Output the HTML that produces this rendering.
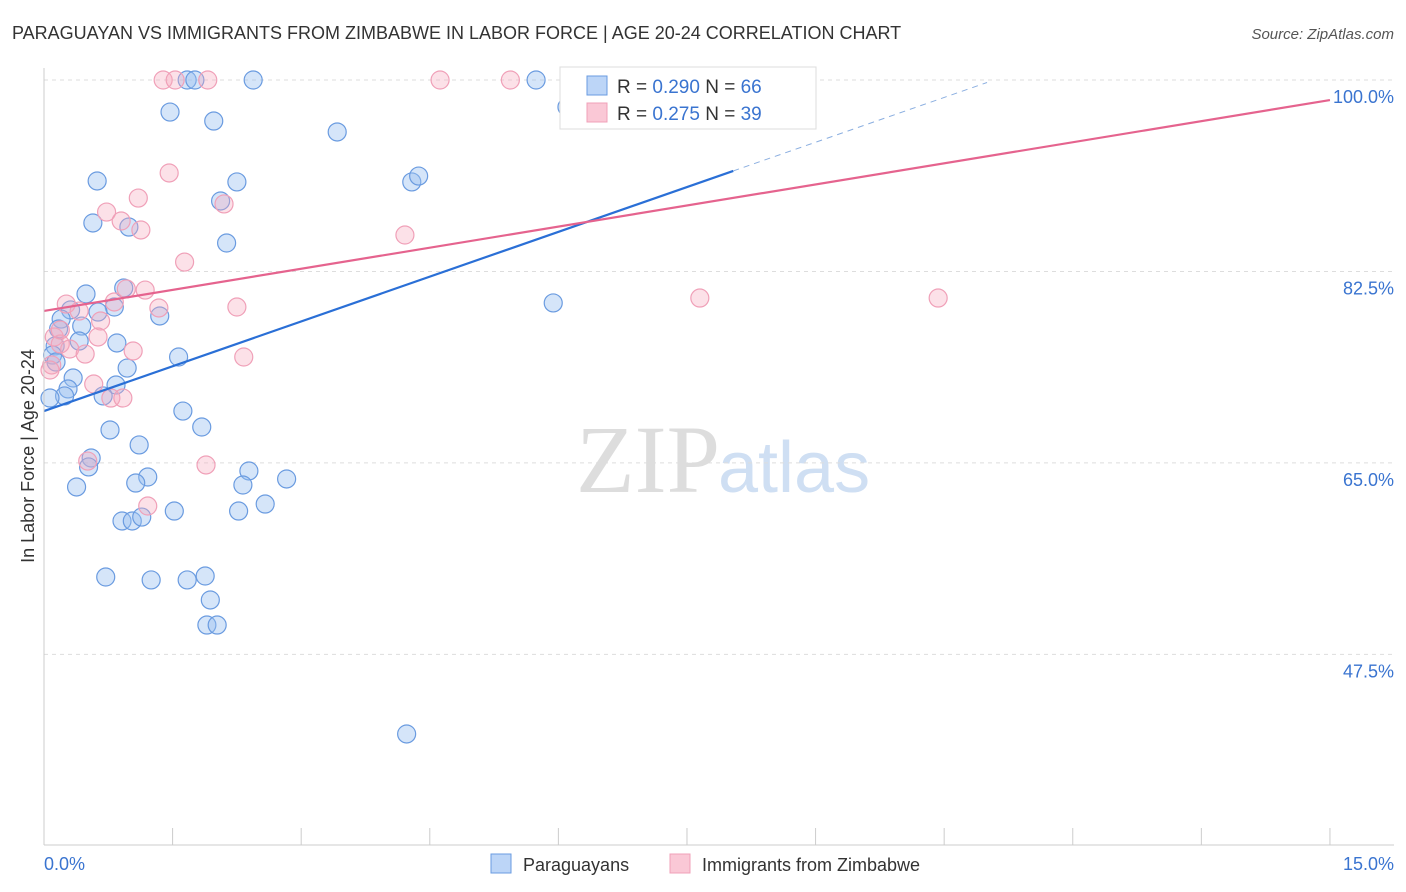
<!DOCTYPE html>
<html><head><meta charset="utf-8">
<style>
body{margin:0;background:#fff;font-family:"Liberation Sans",sans-serif;}
svg{display:block}
</style></head>
<body>
<svg id="c" width="1406" height="892">
<text x="12" y="39" font-size="18" fill="#333">PARAGUAYAN VS IMMIGRANTS FROM ZIMBABWE IN LABOR FORCE | AGE 20-24 CORRELATION CHART</text>
<text x="1394" y="39" font-size="15" fill="#555" font-style="italic" text-anchor="end">Source: ZipAtlas.com</text>
<text x="720" y="492" font-size="96" fill="#ddd" text-anchor="end" font-family="Liberation Serif">ZIP</text>
<text x="718" y="492" font-size="72" fill="#cfdff3">atlas</text>
<g id="grid"></g><g id="pts"></g><g id="lines"></g>
<line x1="44" y1="68" x2="44" y2="845" stroke="#ccc"/>
<line x1="44" y1="845" x2="1394" y2="845" stroke="#ccc"/>
<text x="34" y="456" font-size="18" fill="#333" text-anchor="middle" transform="rotate(-90 34 456)">In Labor Force | Age 20-24</text>
<text x="44" y="870" font-size="18" fill="#3a74d0">0.0%</text>
<text x="1394" y="870" font-size="18" fill="#3a74d0" text-anchor="end">15.0%</text>
<g>
<rect x="560" y="67" width="256" height="62" fill="#fff" stroke="#ddd"/>
<rect x="587" y="76" width="20" height="19" fill="#bcd5f7" stroke="#6a9be0"/>
<rect x="587" y="103" width="20" height="19" fill="#fac8d6" stroke="#f0a0b8"/>
<text x="617" y="93" font-size="19" fill="#333">R = <tspan fill="#3a74d0">0.290</tspan>   N = <tspan fill="#3a74d0">66</tspan></text>
<text x="617" y="120" font-size="19" fill="#333">R =  <tspan fill="#3a74d0">0.275</tspan>   N = <tspan fill="#3a74d0">39</tspan></text>
</g>
<g>
<rect x="491" y="854" width="20" height="19" fill="#bcd5f7" stroke="#6a9be0"/>
<text x="523" y="871" font-size="18" fill="#333">Paraguayans</text>
<rect x="670" y="854" width="20" height="19" fill="#fac8d6" stroke="#f0a0b8"/>
<text x="702" y="871" font-size="18" fill="#333">Immigrants from Zimbabwe</text>
</g>
</svg>
<script>
const yTicks=[100,82.5,65,47.5];
const yTickLabels=["100.0%","82.5%","65.0%","47.5%"];
const xTicks=[0,1.5,3,4.5,6,7.5,9,10.5,12,13.5,15];
const bluePx=[[187,80],[195,80],[253,80],[536,80],[636,80],[567,107],[170,112],[214,121],[337,132],[97,181],[237,182],[412,182],[419,176],[221,201],[93,223],[129,227],[227,243],[124,288],[86,294],[114,307],[71,310],[98,312],[160,316],[61,319],[59,329],[82,326],[79,341],[117,343],[55,346],[53,355],[179,357],[127,368],[73,378],[116,385],[68,389],[65,396],[103,396],[50,398],[183,411],[110,430],[202,427],[139,445],[91,458],[89,467],[148,477],[136,483],[77,487],[249,471],[287,479],[243,485],[265,504],[239,511],[174,511],[122,521],[132,521],[142,517],[106,577],[151,580],[187,580],[205,576],[210,600],[207,625],[217,625],[407,734],[553,303],[56,362]];
const pinkPx=[[163,80],[175,80],[208,80],[440,80],[510,80],[169,173],[138,198],[107,212],[121,221],[141,230],[224,204],[185,262],[405,235],[145,290],[126,289],[114,302],[159,308],[237,307],[66,304],[79,311],[101,321],[98,337],[54,337],[60,344],[70,349],[133,351],[85,354],[244,357],[52,365],[50,370],[94,384],[111,398],[123,398],[88,461],[206,465],[148,506],[700,298],[938,298],[60,330]];
// data values (percent) derived from reading the picture
const blueX=bluePx.map(p=>+((p[0]-44)/85.73).toFixed(2));
const blueY=bluePx.map(p=>+(100-(p[1]-80)/10.94).toFixed(2));
const pinkX=pinkPx.map(p=>+((p[0]-44)/85.73).toFixed(2));
const pinkY=pinkPx.map(p=>+(100-(p[1]-80)/10.94).toFixed(2));
const blueTrend=[69.74,2.73];
const pinkTrend=[78.89,1.285];
const X=v=>44+v*85.73, Y=v=>80+(100-v)*10.94;
const NS="http://www.w3.org/2000/svg";
function mk(t,a,p){const e=document.createElementNS(NS,t);for(const k in a)e.setAttribute(k,a[k]);p.appendChild(e);return e;}
const grid=document.getElementById('grid');
yTicks.forEach((t,i)=>{
 const l=mk('line',{x1:44,x2:1394,y1:Y(t),y2:Y(t),stroke:'#ddd','stroke-dasharray':'4,4'},grid);
 
 
 const tx=mk('text',{x:1394,y:Y(t)+23,'font-size':18,fill:'#3a74d0','text-anchor':'end'},grid);
 tx.textContent=yTickLabels[i];
 
 
});
xTicks.forEach(t=>{
 const l=mk('line',{x1:X(t),x2:X(t),y1:828,y2:845,stroke:'#ccc'},grid);
 
 
});
const pts=document.getElementById('pts');
blueX.forEach((x,i)=>{
 const c=mk('circle',{cx:X(x),cy:Y(blueY[i]),r:9,fill:'rgba(150,190,240,0.4)',stroke:'#6a9be0','stroke-width':1.2},pts);
 
 
});
pinkX.forEach((x,i)=>{
 const c=mk('circle',{cx:X(x),cy:Y(pinkY[i]),r:9,fill:'rgba(245,170,190,0.35)',stroke:'#f0a0b8','stroke-width':1.2},pts);
 
 
});
const lines=document.getElementById('lines');
const bf=x=>blueTrend[0]+blueTrend[1]*x, pf=x=>pinkTrend[0]+pinkTrend[1]*x;
let l=mk('line',{x1:X(0),y1:Y(bf(0)),x2:X(8.04),y2:Y(bf(8.04)),stroke:'#2a6fd6','stroke-width':2.2},lines);


l=mk('line',{x1:X(8.04),y1:Y(bf(8.04)),x2:X(11),y2:Y(bf(11)),stroke:'#8aaee0','stroke-width':1,'stroke-dasharray':'6,5'},lines);


l=mk('line',{x1:X(0),y1:Y(pf(0)),x2:X(15),y2:Y(pf(15)),stroke:'#e5638e','stroke-width':2.2},lines);


</script>
</body></html>
